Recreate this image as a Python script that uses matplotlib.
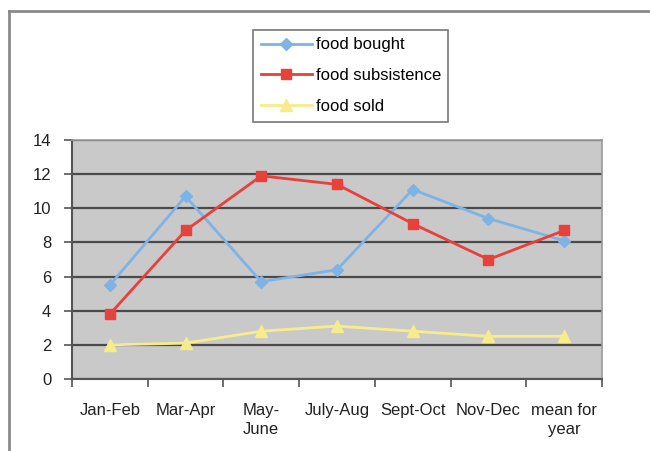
import matplotlib
matplotlib.use("Agg")
import matplotlib.pyplot as plt
from matplotlib.lines import Line2D

plt.rcParams['font.family'] = ['Liberation Sans', 'DejaVu Sans']

categories = ["Jan-Feb", "Mar-Apr", "May-\nJune", "July-Aug", "Sept-Oct", "Nov-Dec", "mean for\nyear"]
food_bought = [5.5, 10.7, 5.7, 6.4, 11.1, 9.4, 8.1]
food_subsistence = [3.8, 8.7, 11.9, 11.4, 9.1, 7.0, 8.7]
food_sold = [2.0, 2.1, 2.8, 3.1, 2.8, 2.5, 2.5]
yticks = [0, 2, 4, 6, 8, 10, 12, 14]

fig = plt.figure(figsize=(6.5, 4.51), dpi=100)
W, H = 650, 451
ax = fig.add_axes([72/W, 1 - 379/H, (602-72)/W, (379-140)/H])
ax.set_facecolor('#c9c9c9')

x = list(range(len(categories)))
l1, = ax.plot(x, food_bought, color='#7eb3e6', marker='D', markersize=6, lw=2, label='food bought', zorder=3)
l2, = ax.plot(x, food_subsistence, color='#e8403a', marker='s', markersize=7.5, lw=2, label='food subsistence', zorder=3)
l3, = ax.plot(x, food_sold, color='#f7ec8c', marker='^', markersize=8, lw=2, label='food sold', zorder=3)

ax.set_ylim(0, 14)
ax.set_xlim(-0.5, 6.5)
ax.set_yticks(yticks)
ax.set_yticklabels([str(v) for v in yticks], fontsize=12, color='#222222')
ax.yaxis.grid(True, color='#4a4a4a', lw=1.6, zorder=1)
ax.set_axisbelow(True)

ax.set_xticks([i + 0.5 for i in range(-1, len(categories))], minor=False)
ax.set_xticklabels([''] * (len(categories) + 1))
ax.set_xticks(x, minor=True)
ax.set_xticklabels(categories, minor=True, fontsize=12, color='#222222', linespacing=1.4)
ax.tick_params(axis='x', which='major', direction='out', length=6, width=1.2, color='#555555')
ax.tick_params(axis='x', which='minor', length=0, pad=17)
ax.tick_params(axis='y', direction='out', length=6, width=1.2, color='#555555', pad=9)

for s in ['left', 'bottom']:
    ax.spines[s].set_color('#555555')
    ax.spines[s].set_linewidth(1.5)
for s in ['top', 'right']:
    ax.spines[s].set_color('#9a9a9a')
    ax.spines[s].set_linewidth(1.2)

leg = fig.legend(handles=[l1, l2, l3], loc='upper left',
                 bbox_to_anchor=(253/W, 1 - 30/H), fontsize=12,
                 frameon=True, fancybox=False, handlelength=3.1, labelspacing=0.95,
                 borderpad=0.45, handletextpad=0.2, borderaxespad=0)
leg.get_frame().set_edgecolor('#555555')
leg.get_frame().set_linewidth(1.2)

# outer frame (top and left)
fig.add_artist(Line2D([9/W, 1], [1 - 11/H, 1 - 11/H], color='#8a8a8a', lw=2, transform=fig.transFigure))
fig.add_artist(Line2D([9/W, 9/W], [0, 1 - 11/H], color='#8a8a8a', lw=2, transform=fig.transFigure))

fig.savefig('out.png', dpi=100)
